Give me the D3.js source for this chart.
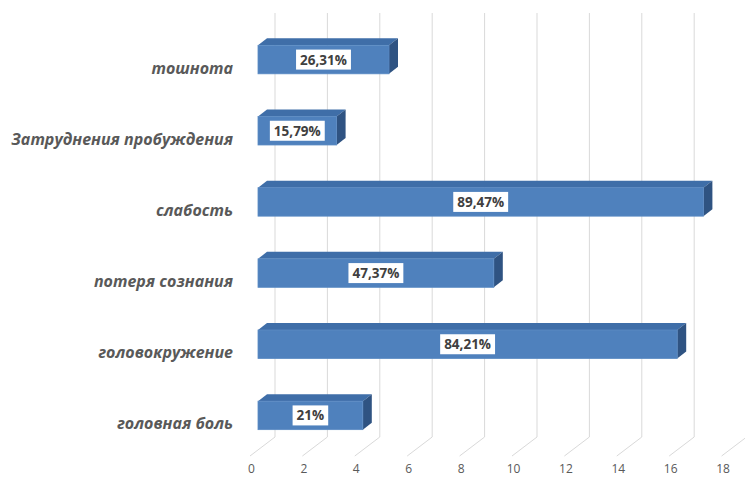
<!DOCTYPE html>
<html>
<head>
<meta charset="utf-8">
<script src="https://cdn.jsdelivr.net/npm/d3@7"></script>
<style>
  body { margin: 0; background: #fff; }
</style>
</head>
<body>
<div id="chart"></div>
<script>
var categories = ["тошнота", "Затруднения пробуждения", "слабость", "потеря сознания", "головокружение", "головная боль"];
var values = [5, 3, 17, 9, 16, 4];
var percentLabels = ["26,31%", "15,79%", "89,47%", "47,37%", "84,21%", "21%"];
var xTicks = [0, 2, 4, 6, 8, 10, 12, 14, 16, 18];

var width = 745, height = 483;
var svg = d3.select("#chart").append("svg")
  .attr("width", width)
  .attr("height", height);

var x = d3.scaleLinear().domain([0, 18]).range([0, 471.6]);
var y = d3.scaleBand()
  .domain(categories)
  .range([24, 451])
  .paddingInner(0.6)
  .paddingOuter(0.3);

// 3d layout: front of bars, back wall, front edge of the floor
var barLeft = 258, wallLeft = 275, floorLeft = 250;
var wallTop = 13, wallBottom = 437, floorFront = 456;
var depthX = 9, depthY = -7;

// gridlines on the back wall + floor
var grid = svg.append("g");
xTicks.forEach(function(t){
  grid.append("path")
    .attr("d", "M" + (wallLeft + x(t)) + "," + wallTop + "V" + wallBottom +
               "L" + (floorLeft + x(t)) + "," + floorFront)
    .attr("fill", "none")
    .attr("stroke", "#d9d9d9")
    .attr("stroke-width", 1);
});

// tick labels
var xAxis = d3.axisBottom(x).tickValues(xTicks).tickSize(0).tickPadding(0);
var axisG = svg.append("g")
  .attr("transform", "translate(251,464)")
  .call(xAxis);
axisG.select(".domain").remove();
axisG.selectAll("text")
  .attr("fill", "#595959")
  .style("font-family", "'Open Sans', sans-serif")
  .style("font-size", "12px");

// bars
var bars = svg.append("g").selectAll("g")
  .data(categories)
  .enter()
  .append("g");

bars.each(function(c, i){
  var g = d3.select(this);
  var y0 = y(c), h = y.bandwidth(), w = x(values[i]);
  var x0 = barLeft;
  // top face
  g.append("path")
    .attr("d", "M" + x0 + "," + y0 + "L" + (x0 + w) + "," + y0 +
               "L" + (x0 + w + depthX) + "," + (y0 + depthY) +
               "L" + (x0 + depthX) + "," + (y0 + depthY) + "Z")
    .attr("fill", "#3f6ea8");
  // side face
  g.append("path")
    .attr("d", "M" + (x0 + w) + "," + y0 + "L" + (x0 + w + depthX) + "," + (y0 + depthY) +
               "L" + (x0 + w + depthX) + "," + (y0 + depthY + h) +
               "L" + (x0 + w) + "," + (y0 + h) + "Z")
    .attr("fill", "#2f5382");
  // front face
  g.append("rect")
    .attr("x", x0)
    .attr("y", y0)
    .attr("width", w)
    .attr("height", h)
    .attr("fill", "#4f81bd")
    .attr("stroke", "#5a8ac3")
    .attr("stroke-width", 0.8);

  // value label in a white box
  var cx = x0 + w / 2, cy = y0 + h / 2;
  var box = g.append("rect").attr("fill", "#fff");
  var txt = g.append("text")
    .attr("x", cx)
    .attr("y", cy)
    .attr("text-anchor", "middle")
    .attr("dominant-baseline", "central")
    .attr("fill", "#404040")
    .style("font-family", "'Open Sans', sans-serif")
    .style("font-weight", "bold")
    .style("font-size", "13.5px")
    .text(percentLabels[i]);
  var tw = txt.node().getComputedTextLength();
  box.attr("x", cx - tw / 2 - 4)
    .attr("y", cy - 10)
    .attr("width", tw + 8)
    .attr("height", 20);
});

// category labels
svg.append("g").selectAll("text")
  .data(categories)
  .enter()
  .append("text")
    .attr("x", 233)
    .attr("y", function(d){ return y(d) + y.bandwidth() / 2 + 8; })
    .attr("text-anchor", "end")
    .attr("dominant-baseline", "central")
    .attr("fill", "#595959")
    .style("font-family", "'Open Sans', sans-serif")
    .style("font-weight", "bold")
    .style("font-style", "italic")
    .style("font-size", "16px")
    .text(function(d){ return d; });
</script>
</body>
</html>
